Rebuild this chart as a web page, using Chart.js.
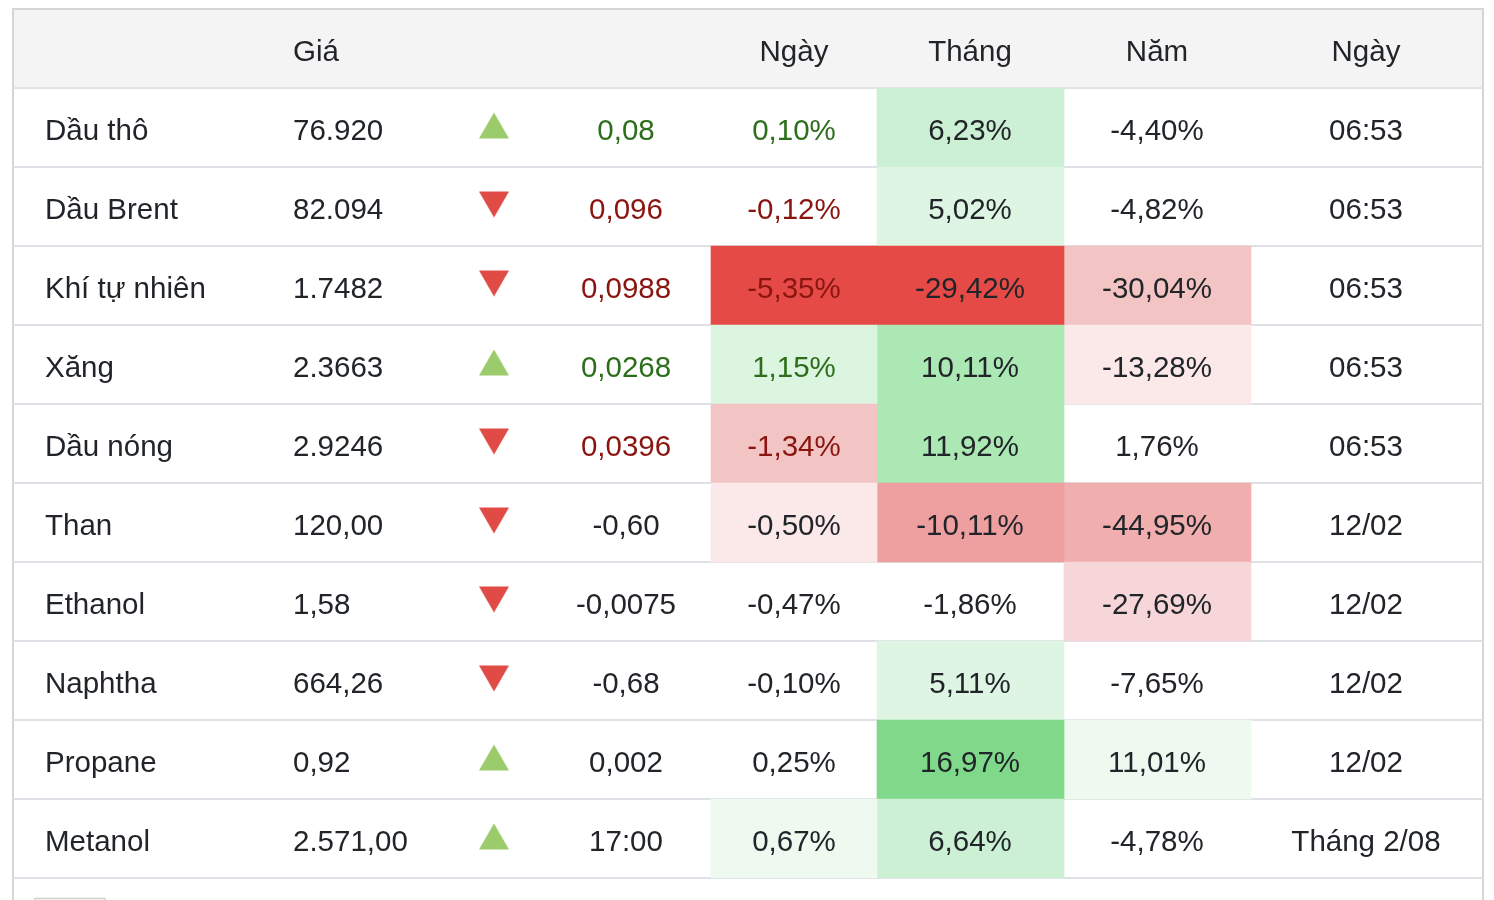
<!DOCTYPE html>
<html>
<head>
<meta charset="utf-8">
<script src="https://cdn.jsdelivr.net/npm/chart.js@4/dist/chart.umd.min.js"></script>
<style>
  html, body { margin: 0; padding: 0; background: #fff; }
  #wrap { width: 1494px; height: 900px; position: relative; }
</style>
</head>
<body>
<div id="wrap"><canvas id="chart"></canvas></div>
<script>
// table data
const names = ["Dầu thô", "Dầu Brent", "Khí tự nhiên", "Xăng", "Dầu nóng", "Than", "Ethanol", "Naphtha", "Propane", "Metanol"];
const prices = ["76.920", "82.094", "1.7482", "2.3663", "2.9246", "120,00", "1,58", "664,26", "0,92", "2.571,00"];
const changes = ["0,08", "0,096", "0,0988", "0,0268", "0,0396", "-0,60", "-0,0075", "-0,68", "0,002", "17:00"];
const direction = [1, -1, -1, 1, -1, -1, -1, -1, 1, 1];
const dayPct = [0.10, -0.12, -5.35, 1.15, -1.34, -0.50, -0.47, -0.10, 0.25, 0.67];
const monthPct = [6.23, 5.02, -29.42, 10.11, 11.92, -10.11, -1.86, 5.11, 16.97, 6.64];
const yearPct = [-4.40, -4.82, -30.04, -13.28, 1.76, -44.95, -27.69, -7.65, 11.01, -4.78];
const times = ["06:53", "06:53", "06:53", "06:53", "06:53", "12/02", "12/02", "12/02", "12/02", "Tháng 2/08"];
const headers = ["", "Giá", "", "", "Ngày", "Tháng", "Năm", "Ngày"];

// heat colours of the cells (style, not data)
const N = "transparent";
const dayColors = [N, N, "#e54a46", "#dcf5e1", "#f2c4c4", "#fbe9e9", N, N, N, "#eef9ef"];
const monthColors = ["#ccf0d4", "#ddf5e2", "#e54a46", "#ace8b4", "#ace8b4", "#ee9f9f", N, "#ddf5e2", "#80d98a", "#ccf0d4"];
const yearColors = [N, N, "#f2c4c4", "#fbe9e9", N, "#f0aeae", "#f7d6d9", N, "#eef9ef", N];
const liveRows = 5; // first rows show coloured change text

// layout
const cols = {
  name: 45, price: 293, arrow: 494, change: 626, day: 794, month: 970, year: 1157, time: 1366
};
const cellEdges = { day: [711, 877], month: [877, 1064], year: [1064, 1251] };
const FONT = "29.5px 'Liberation Sans', Arial, sans-serif";
const DARK = "#212529", GREEN_TXT = "#2c6e1b", RED_TXT = "#8a1510";

const fmt = v => v.toFixed(2).replace(".", ",") + "%";

function triangleImage(up, color) {
  const c = document.createElement("canvas");
  c.width = 34; c.height = 34;
  const g = c.getContext("2d");
  g.fillStyle = color;
  g.beginPath();
  if (up) { g.moveTo(17, 2); g.lineTo(32, 28); g.lineTo(2, 28); }
  else { g.moveTo(2, 2); g.lineTo(32, 2); g.lineTo(17, 28); }
  g.closePath();
  g.fill();
  return c;
}

const cellSet = (key, colors) => ({
  label: key,
  data: names.map(() => cellEdges[key]),
  backgroundColor: colors,
  borderWidth: 0,
  barPercentage: 1,
  categoryPercentage: 1,
  grouped: false
});

const arrowSet = (dir, img) => ({
  type: "scatter",
  data: names.map((n, i) => direction[i] === dir ? { x: cols.arrow, y: n } : null).filter(Boolean),
  pointStyle: img,
  pointRadius: 17,
  indexAxis: "x"
});

const tablePlugin = {
  id: "table",
  beforeDraw(chart) {
    const ctx = chart.ctx;
    const top = chart.chartArea.top;
    ctx.save();
    ctx.fillStyle = "#f4f4f4";
    ctx.fillRect(14, 10, 1469, top - 10);
    ctx.strokeStyle = "#d6d6d6";
    ctx.lineWidth = 2;
    ctx.beginPath();
    ctx.moveTo(13, 900); ctx.lineTo(13, 9); ctx.lineTo(1483, 9); ctx.lineTo(1483, 900);
    ctx.stroke();
    ctx.strokeStyle = "#cfcfcf";
    ctx.lineWidth = 1.5;
    ctx.strokeRect(35, 898.5, 70, 20);
    ctx.restore();
  },
  afterDraw(chart) {
    const ctx = chart.ctx;
    const xs = chart.scales.x, ys = chart.scales.y;
    ctx.save();
    ctx.font = FONT;
    ctx.textBaseline = "alphabetic";
    const text = (s, col, y, align, color) => {
      ctx.fillStyle = color || DARK;
      ctx.textAlign = align;
      ctx.fillText(s, xs.getPixelForValue(col), y);
    };
    // header
    const hy = (10 + chart.chartArea.top) / 2 + 12;
    const order = ["name", "price", "arrow", "change", "day", "month", "year", "time"];
    headers.forEach((h, k) => {
      if (h) text(h, cols[order[k]], hy, k === 1 ? "left" : "center");
    });
    // rows
    names.forEach((n, i) => {
      const y = ys.getPixelForValue(i) + 12;
      const live = i < liveRows;
      const tone = live ? (direction[i] > 0 ? GREEN_TXT : RED_TXT) : DARK;
      text(n, cols.name, y, "left");
      text(prices[i], cols.price, y, "left");
      text(changes[i], cols.change, y, "center", tone);
      text(fmt(dayPct[i]), cols.day, y, "center", tone);
      text(fmt(monthPct[i]), cols.month, y, "center");
      text(fmt(yearPct[i]), cols.year, y, "center");
      text(times[i], cols.time, y, "center");
    });
    ctx.restore();
  }
};

new Chart(document.getElementById("chart"), {
  type: "bar",
  data: {
    labels: names,
    datasets: [
      cellSet("day", dayColors),
      cellSet("month", monthColors),
      cellSet("year", yearColors),
      arrowSet(1, triangleImage(true, "#9bcb6b")),
      arrowSet(-1, triangleImage(false, "#e04b46"))
    ]
  },
  options: {
    indexAxis: "y",
    responsive: true,
    maintainAspectRatio: false,
    animation: false,
    events: [],
    layout: { autoPadding: false, padding: { left: 13, right: 11, top: 88, bottom: 22 } },
    plugins: { legend: { display: false }, tooltip: { enabled: false } },
    scales: {
      x: { type: "linear", min: 13, max: 1483, display: false },
      y: {
        type: "category",
        offset: true,
        z: 1,
        border: { display: false },
        ticks: { display: false, padding: 0 },
        grid: { offset: true, color: "#dee2e6", lineWidth: 2, drawTicks: false },
        afterFit(scale) { scale.width = 0; }
      }
    }
  },
  plugins: [tablePlugin]
});
</script>
</body>
</html>
